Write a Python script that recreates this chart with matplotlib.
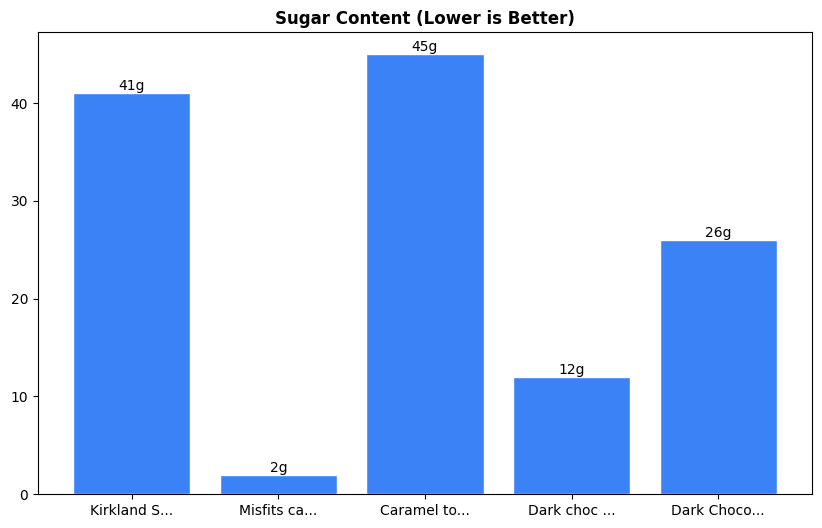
import matplotlib
matplotlib.use("Agg")
import matplotlib.pyplot as plt

categories = ["Kirkland S...", "Misfits ca...", "Caramel to...", "Dark choc ...", "Dark Choco..."]
sugar = [41, 2, 45, 12, 26]

fig, ax = plt.subplots(figsize=(8.22, 5.28), dpi=100)
fig.subplots_adjust(left=0.046, right=0.988, top=0.939, bottom=0.064)
bars = ax.bar(categories, sugar, color="#3b82f6", edgecolor="white", width=0.8)
for b, v in zip(bars, sugar):
    ax.text(b.get_x() + b.get_width() / 2, v, f"{v}g", ha="center", va="bottom", fontsize=10)
ax.set_title("Sugar Content (Lower is Better)", fontweight="bold", fontsize=12)
fig.savefig("out.png", dpi=100)
